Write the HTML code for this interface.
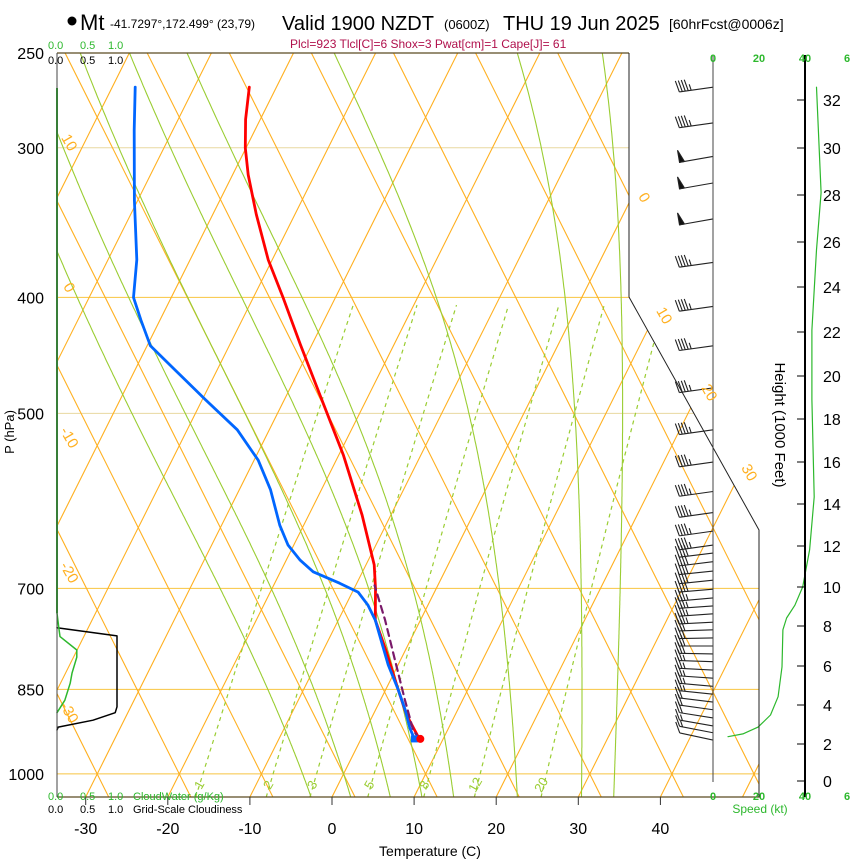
<!DOCTYPE html>
<html><head><meta charset="utf-8"><style>
body{margin:0;background:#fff;}
svg{display:block;font-family:"Liberation Sans",sans-serif;}
</style></head><body>
<svg id="chart" width="850" height="860" viewBox="0 0 850 860">
<defs><clipPath id="plotclip"><polygon points="57,53 629,53 629,297 759,530 759,797 57,797"/></clipPath></defs>
<rect width="850" height="860" fill="#fff"/>
<g id="grid" clip-path="url(#plotclip)"></g>
<g id="series"></g>
<g id="frame">
<line x1="57" y1="53" x2="629" y2="53" stroke="#5a4a20" stroke-width="1.2"/>
<line x1="57" y1="797" x2="760" y2="797" stroke="#5a4a20" stroke-width="1.2"/>
<line x1="57" y1="53" x2="57" y2="797" stroke="#444" stroke-width="1"/>
<polyline points="629,53 629,297 759,530 759,797" fill="none" stroke="#222" stroke-width="1"/>
<line x1="713" y1="56" x2="713" y2="782" stroke="#444" stroke-width="1"/>
<line x1="805" y1="55" x2="805" y2="797" stroke="#000" stroke-width="2"/>
</g>
<g id="labels">
<circle cx="72" cy="21" r="4.5" fill="#000"/>
<text x="80" y="30" font-size="22">Mt</text>
<text x="110" y="28" font-size="12">-41.7297°,172.499° (23,79)</text>
<text x="282" y="30" font-size="20">Valid 1900 NZDT</text>
<text x="444" y="29" font-size="13">(0600Z)</text>
<text x="503" y="30" font-size="20">THU 19 Jun 2025</text>
<text x="669" y="29" font-size="14">[60hrFcst@0006z]</text>
<text x="290" y="48" font-size="12" fill="#b0104c">Plcl=923 Tlcl[C]=6 Shox=3 Pwat[cm]=1 Cape[J]= 61</text>
<text x="48" y="49" font-size="11" fill="#2db82d">0.0 <tspan x="80">0.5</tspan><tspan x="108">1.0</tspan></text>
<text x="48" y="64" font-size="11" fill="#000">0.0 <tspan x="80">0.5</tspan><tspan x="108">1.0</tspan></text>
<text x="48" y="800" font-size="11" fill="#2db82d">0.0 <tspan x="80">0.5</tspan><tspan x="108">1.0</tspan><tspan x="133">CloudWater (g/Kg)</tspan></text>
<text x="48" y="813" font-size="11" fill="#000">0.0 <tspan x="80">0.5</tspan><tspan x="108">1.0</tspan><tspan x="133">Grid-Scale Cloudiness</tspan></text>
<text x="430" y="856" font-size="14" text-anchor="middle">Temperature (C)</text>
<text transform="translate(14,432) rotate(-90)" font-size="13" text-anchor="middle">P (hPa)</text>
<text transform="translate(775,425) rotate(90)" font-size="15" text-anchor="middle">Height (1000 Feet)</text>
<text x="760" y="813" font-size="12" fill="#2db82d" text-anchor="middle">Speed (kt)</text>
</g>
</svg>
<script>
// ---- data ----
const pressureTicks=[250,300,400,500,700,850,1000];
const tempTicks=[-30,-20,-10,0,10,20,30,40];
const heightTicks=[0,2,4,6,8,10,12,14,16,18,20,22,24,26,28,30,32];
const heightTickY=[781,744,705,666,626,587,546,504,462,419,376,332,287,242,195,148,100];
const speedTicks=[0,20,40,60];
const mixRatios=[1,2,3,5,8,12,20];
const moistThetas=[-5,0,5,9,13,21,29,33];
const tempP=[267,284,300,316,341,372,400,438,483,542,608,669,700,744,788,850,893,935];
const tempT=[-53.3,-51.8,-50.1,-48.1,-44.7,-40.5,-36.4,-31.4,-25.9,-19.4,-13.5,-9.0,-7.4,-5.5,-2.4,1.5,4.1,7.1];
const dewP=[267,290,332,372,400,418,439,460,487,516,547,579,620,644,663,678,693,705,723,744,773,811,850,884,916,935];
const dewT=[-67.2,-64.7,-60.4,-56.5,-54.6,-52.3,-49.6,-45.1,-39.6,-33.9,-29.5,-26.2,-22.9,-20.7,-18.3,-16.0,-12.1,-9.3,-7.3,-5.5,-3.6,-1.2,1.5,3.6,5.3,6.5];
const parcelP=[935,919,868,803,744,696];
const parcelT=[7.1,5.8,3.0,-0.7,-4.3,-7.7];
const windP=[267,286,305,321,344,374,407,439,476,516,549,581,605,627,644,654,665,677,689,701,713,724,735,747,758,770,782,794,806,819,832,845,858,871,884,898,912,924,937];
const windSpd=[45,45,50,50,50,45,45,45,45,45,45,45,45,45,45,40,40,40,40,40,35,35,35,35,30,30,30,30,25,25,25,25,25,20,20,20,15,15,10];
const windDir=[278,278,280,280,280,278,278,278,278,278,278,278,278,278,278,277,277,276,276,275,275,274,274,273,272,271,270,269,268,267,266,265,264,263,262,261,260,259,258];
const spdP=[931,926,914,893,862,814,758,741,723,698,650,587,487,426,365,327,267];
const spdKt=[6.5,13,19.6,25,28.3,30,30.4,32,35.6,39,42,44,43,43,45,47,45];
const cloudP=[755,767,814,879,889,902,914,919];
const cloudFrac=[0,1.0,1.0,1.0,0.97,0.6,0.02,0];
const cwP=[734,755,768,788,799,824,840,868,889];
const cwVal=[0,0.03,0.05,0.33,0.33,0.25,0.22,0.13,0];

// ---- axes ----
const NS='http://www.w3.org/2000/svg';
function yP(p){return 53+520*Math.log(p/250);}
function xT(T,y){return 332+8.21*T+0.5*(797-y);}
function xTP(T,p){return xT(T,yP(p));}
function el(tag,attrs,parent){const e=document.createElementNS(NS,tag);for(const k in attrs)e.setAttribute(k,attrs[k]);parent.appendChild(e);return e;}
const grid=document.getElementById('grid'),series=document.getElementById('series'),labels=document.getElementById('labels'),frame=document.getElementById('frame');

// isobars
pressureTicks.forEach(p=>{
  const y=yP(p);
  if(p!==250){const l=el('line',{x1:57,y1:y,x2:760,y2:y,stroke:(p===300||p===500)?'#e8d8a0':'#f8c440','stroke-width':1},grid);
  
  }
  const t=el('text',{x:44,y:y+6,'font-size':16,'text-anchor':'end'},labels);t.textContent=p;
  
  
});
// isotherms
for(let T=-120;T<=60;T+=10){
  const l=el('line',{x1:xT(T,797),y1:797,x2:xT(T,53),y2:53,stroke:'#ffb020','stroke-width':1.1},grid);
  
  
}
// dry adiabats (straight)
for(let th=-60;th<=140;th+=10){
  const f=y=>343.5+8.21*th+0.5*(y-774);
  const l=el('line',{x1:f(797),y1:797,x2:f(53),y2:53,stroke:'#ffb020','stroke-width':1.1},grid);
  
  
}
// mixing ratio lines
function tdFromW(w,p){const e=w*p/(622+w);const a=Math.log(e/6.112);return 243.5*a/(17.67-a);}
mixRatios.forEach(w=>{
  const pts=[];for(let p=1046;p>=400;p-=10)pts.push(xTP(tdFromW(w,p),p).toFixed(1)+','+yP(p).toFixed(1));
  const l=el('polyline',{points:pts.join(' '),fill:'none',stroke:'#9acd32','stroke-width':1.2,'stroke-dasharray':'4,4'},grid);
  
  
});
// moist adiabats
function dTdp(p,T){const Tk=T+273.15;const es=6.112*Math.exp(17.67*T/(T+243.5));const rs=0.622*es/(p-es);
  return ((287*Tk+2.5e6*rs)/p)/(1004+(2.5e6*2.5e6*rs*0.622)/(287*Tk*Tk));}
moistThetas.forEach(th=>{
  let pts=[];
  let Td=th;for(let p=1000;p<1046;p+=2){Td+=dTdp(p,Td)*2;}
  for(let p=1046;p>=250;p-=2){pts.push(xTP(Td,p).toFixed(1)+','+yP(p).toFixed(1));Td-=dTdp(p,Td)*2;}
  const l=el('polyline',{points:pts.join(' '),fill:'none',stroke:'#9acd32','stroke-width':1.1},grid);
  
  
});
// grid labels
const orange=[['10',65,145],['0',65,290],['-10',65,440],['-20',65,575],['-30',65,715],['0',640,200],['10',660,318],['20',705,395],['30',745,475]];
orange.forEach(o=>{const t=el('text',{transform:`translate(${o[1]},${o[2]}) rotate(60)`,'font-size':15,fill:'#ffb020','text-anchor':'middle'},labels);t.textContent=o[0];
  
  });
const mrX=[203,272,316,373,428,479,545];
mixRatios.forEach((w,i)=>{const t=el('text',{transform:`translate(${mrX[i]},${787}) rotate(-60)`,'font-size':13,fill:'#9acd32','text-anchor':'middle'},labels);t.textContent=w;
  
  });
// temp ticks
tempTicks.forEach(T=>{const x=xT(T,797);
  el('line',{x1:x,y1:797,x2:x,y2:805,stroke:'#333'},frame);
  const t=el('text',{x:x,y:834,'font-size':16,'text-anchor':'middle'},labels);t.textContent=T;
  
  });
// height ticks
heightTicks.forEach((h,i)=>{const y=heightTickY[i];
  el('line',{x1:797,y1:y,x2:805,y2:y,stroke:'#000'},frame);
  const t=el('text',{x:823,y:y+6,'font-size':16},labels);t.textContent=h;
  
  });
// speed ticks
speedTicks.forEach(s=>{const x=713+s*2.3;[62,800].forEach(y=>{
  const t=el('text',{x:Math.min(x,847),y:y,'font-size':11,'font-weight':'bold',fill:'#2db82d','text-anchor':'middle'},labels);t.textContent=s===60?'6':s;
  
  });});
// cloud panel
function line(ps,vs,xf,color,w,name,dash){
  const pts=ps.map((p,i)=>xf(vs[i],p).toFixed(1)+','+yP(p).toFixed(1));
  const a={points:pts.join(' '),fill:'none',stroke:color,'stroke-width':w,'stroke-linejoin':'round','stroke-linecap':'round'};
  if(dash)a['stroke-dasharray']=dash;
  const l=el('polyline',a,series);
  
  
  return l;}
const cw=el('line',{x1:57,y1:88,x2:57,y2:yP(cwP[0]),stroke:'#2db82d','stroke-width':2},series);


line(cloudP,cloudFrac,(v)=>57+v*60,'#000',1.5,'cloudiness-line');
line(cwP,cwVal,(v)=>57+v*60,'#2db82d',1.5,'cloudwater-line');
// speed profile
line(spdP,spdKt,(v)=>713+v*2.3,'#2db82d',1.2,'wind-speed-line');
// profiles
line(tempP,tempT,xTP,'#ff0000',2.8,'temperature-line');
line(dewP,dewT,xTP,'#0066ff',2.8,'dewpoint-line');
line(parcelP,parcelT,xTP,'#7a1a6a',2.2,'parcel-line','7,5');
const bd=el('rect',{x:xTP(dewT[dewT.length-1],dewP[dewP.length-1])-3.5,y:yP(dewP[dewP.length-1])-3.5,width:7,height:7,fill:'#0066ff'},series);


const bt=el('circle',{cx:xTP(tempT[tempT.length-1],tempP[tempP.length-1])+1,cy:yP(tempP[tempP.length-1]),r:4,fill:'#ff0000'},series);


// wind barbs
windP.forEach((p,i)=>{
  const y0=yP(p),x0=713,L=34,r=windDir[i]*Math.PI/180;
  const ux=Math.sin(r),uy=-Math.cos(r);
  const x1=x0+L*ux,y1=y0-L*uy;
  const g=el('g',{stroke:'#222','stroke-width':1.1,fill:'#111'},series);
  
  
  el('line',{x1:x0,y1:y0,x2:x1,y2:y1},g);
  let s=windSpd[i],pos=0;
  while(s>=50){
    el('polygon',{points:`${x1-ux*pos},${y1+uy*pos} ${x1-ux*pos-2},${y1+uy*pos-12} ${x1-ux*(pos+5)},${y1+uy*(pos+5)}`},g);
    s-=50;pos+=6;}
  while(s>=10){const bx=x1-ux*pos,by=y1+uy*pos;el('line',{x1:bx,y1:by,x2:bx-4,y2:by-11},g);s-=10;pos+=3;}
  if(s>=5){const bx=x1-ux*pos,by=y1+uy*pos;el('line',{x1:bx,y1:by,x2:bx-2,y2:by-6},g);}
});
</script>
</body></html>
